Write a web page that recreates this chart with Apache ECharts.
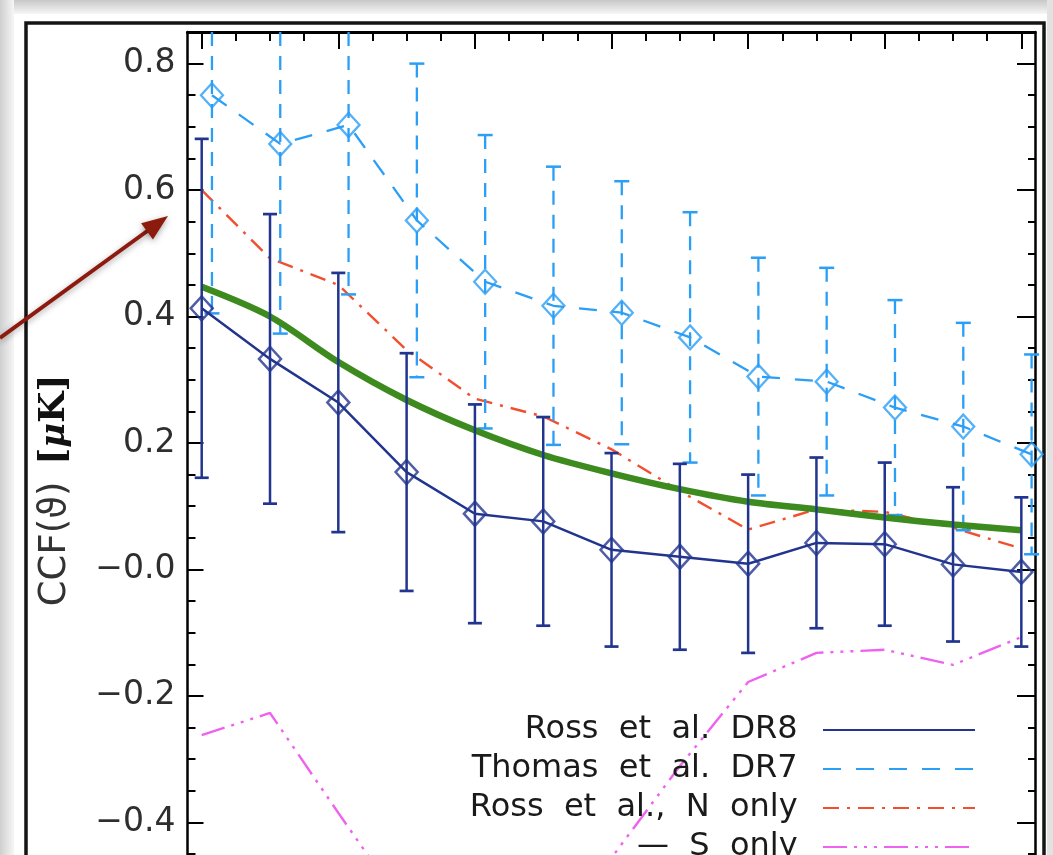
<!DOCTYPE html>
<html><head><meta charset="utf-8">
<script src="https://cdn.jsdelivr.net/npm/echarts@6/dist/echarts.min.js"></script>
<style>html,body{margin:0;padding:0;background:#fff}#c{width:1053px;height:855px}</style>
</head><body><div id="c"></div>
<script>
// ---- data ----
const binX   = [0, 1, 2, 3, 4, 5, 6, 7, 8, 9, 10, 11, 12];
const dr7X   = [0.15, 1.15, 2.15, 3.15, 4.15, 5.15, 6.15, 7.15, 8.15, 9.15, 10.15, 11.15, 12.15];
const dr8Ccf = [0.413, 0.333, 0.264, 0.154, 0.088, 0.076, 0.031, 0.020, 0.009, 0.042, 0.040, 0.008, -0.004];
const dr8Err = [0.268, 0.229, 0.205, 0.188, 0.173, 0.165, 0.153, 0.147, 0.141, 0.135, 0.129, 0.122, 0.118];
const dr7Ccf = [0.750, 0.673, 0.703, 0.552, 0.455, 0.417, 0.406, 0.367, 0.305, 0.297, 0.256, 0.226, 0.182];
const dr7Err = [0.345, 0.300, 0.268, 0.248, 0.232, 0.220, 0.208, 0.198, 0.188, 0.180, 0.170, 0.164, 0.158];
const nOnly  = [0.600, 0.492, 0.450, 0.347, 0.270, 0.242, 0.190, 0.124, 0.063, 0.095, 0.091, 0.066, 0.033];
const sOnly  = [-0.262, -0.227, -0.385, -0.54, -0.62, -0.58, -0.456, -0.311, -0.178, -0.132, -0.127, -0.151, -0.107];
const model  = [0.447, 0.400, 0.328, 0.268, 0.220, 0.181, 0.152, 0.127, 0.107, 0.095, 0.082, 0.071, 0.062];
const seriesNames = ['Ross et al. DR8', 'Thomas et al. DR7', 'Ross et al., N only', '\u2014 S only'];
const xMajorTicks = [0, 2, 4, 6, 8, 10, 12];
const xMinorTicks = [0.5, 1, 1.5, 2.5, 3, 3.5, 4.5, 5, 5.5, 6.5, 7, 7.5, 8.5, 9, 9.5, 10.5, 11, 11.5];

// ---- styles ----
const C_DR8 = '#22358e', C_DR7 = '#2b9ef5', C_N = '#f0502f', C_S = '#ef62ef', C_M = '#3d8b1f';
const X_MIN = -0.208, X_MAX = 12.2, Y_MIN = -0.6, Y_MAX = 0.85;

const zip = (xs, ys) => xs.map((x, i) => [x, ys[i]]);
const zip3 = (xs, ys, es) => xs.map((x, i) => [x, ys[i], es[i]]);

function errRender(color, dash, capW, lw) {
  return function (params, api) {
    const x = api.value(0), y = api.value(1), e = api.value(2);
    const top = api.coord([x, y + e]);
    const bot = api.coord([x, y - e]);
    const cs = params.coordSys;
    const yLo = cs.y, yHi = cs.y + cs.height;
    const t = Math.max(top[1], yLo), b = Math.min(bot[1], yHi);
    const st = { stroke: color, lineWidth: lw, lineDash: dash };
    const cap = { stroke: color, lineWidth: lw + 0.2 };
    const ch = [{ type: 'line', shape: { x1: top[0], y1: t, x2: top[0], y2: b }, style: st }];
    if (top[1] >= yLo) ch.push({ type: 'line', shape: { x1: top[0] - capW / 2, y1: top[1], x2: top[0] + capW / 2, y2: top[1] }, style: cap });
    if (bot[1] <= yHi) ch.push({ type: 'line', shape: { x1: bot[0] - capW / 2, y1: bot[1], x2: bot[0] + capW / 2, y2: bot[1] }, style: cap });
    return { type: 'group', children: ch };
  };
}

function fmtY(v) {
  if (v > 0.81 || v < -0.59) return '';
  const r = Math.round(v * 10) / 10;
  if (Math.abs(r) < 1e-9) return '\u22120.0';
  return r < 0 ? '\u2212' + Math.abs(r).toFixed(1) : r.toFixed(1);
}

const chart = echarts.init(document.getElementById('c'), null, { renderer: 'canvas' });
const tickStyle = { color: '#000', width: 2 };
const yBase = { type: 'value', min: Y_MIN, max: Y_MAX, splitLine: { show: false } };

chart.setOption({
  animation: false,
  backgroundColor: '#ffffff',
  grid: { left: 187.5, top: 32, width: 847.5, height: 916.8, containLabel: false, outerBoundsMode: 'none' },
  xAxis: [
    { type: 'value', position: 'top', min: X_MIN, max: X_MAX,
      axisLine: { show: true, onZero: false, lineStyle: { color: '#000', width: 3 } },
      axisTick: { show: true, inside: true, length: 17, lineStyle: tickStyle, customValues: xMajorTicks },
      axisLabel: { show: false }, splitLine: { show: false } },
    { type: 'value', position: 'top', min: X_MIN, max: X_MAX,
      axisLine: { show: false, onZero: false },
      axisTick: { show: true, inside: true, length: 9, lineStyle: tickStyle, customValues: xMinorTicks },
      axisLabel: { show: false }, splitLine: { show: false } }
  ],
  yAxis: [
    Object.assign({}, yBase, { position: 'left', interval: 0.2,
      axisLine: { show: true, onZero: false, lineStyle: { color: '#000', width: 2.5 } },
      axisTick: { show: true, inside: true, length: 16, lineStyle: tickStyle },
      axisLabel: { show: true, margin: 12, formatter: fmtY, color: '#2e2e2e', fontSize: 33, fontFamily: 'DejaVu Sans' },
      name: '{a|CCF(\u03d1)}     {b|[}{m|\u03bc}{b|K]}', nameLocation: 'middle', nameRotate: 90, nameGap: 114,
      nameTextStyle: { rich: {
        a: { fontFamily: 'DejaVu Sans', fontSize: 37, color: '#333' },
        b: { fontFamily: 'DejaVu Serif', fontWeight: 'bold', fontSize: 36, color: '#111' },
        m: { fontFamily: 'DejaVu Serif', fontStyle: 'italic', fontWeight: 'bold', fontSize: 34, color: '#111' } } } }),
    Object.assign({}, yBase, { position: 'left', interval: 0.05,
      axisLine: { show: false, onZero: false },
      axisTick: { show: true, inside: true, length: 8, lineStyle: tickStyle },
      axisLabel: { show: false } }),
    Object.assign({}, yBase, { position: 'right', interval: 0.2,
      axisLine: { show: true, onZero: false, lineStyle: { color: '#000', width: 2.5 } },
      axisTick: { show: true, inside: true, length: 18, lineStyle: tickStyle },
      axisLabel: { show: false } }),
    Object.assign({}, yBase, { position: 'right', interval: 0.05,
      axisLine: { show: false, onZero: false },
      axisTick: { show: true, inside: true, length: 7, lineStyle: tickStyle },
      axisLabel: { show: false } })
  ],
  legend: {
    data: seriesNames, orient: 'vertical', align: 'right', right: 72, top: 709, height: 240,
    itemWidth: 152, itemHeight: 2, itemGap: 7, selectedMode: false,
    itemStyle: { opacity: 0 },
    formatter: n => n.replace(/ /g, '  ') + '  ',
    textStyle: { fontFamily: 'DejaVu Sans', fontSize: 32, color: '#1a1a1a', lineHeight: 32 }
  },
  graphic: [
    { type: 'rect', silent: true, z: -10, shape: { x: 0, y: 0, width: 1053, height: 14 },
      style: { fill: new echarts.graphic.LinearGradient(0, 0, 0, 1, [{ offset: 0, color: '#c8c8c8' }, { offset: 1, color: '#f6f6f6' }]) } },
    { type: 'rect', silent: true, z: -10, shape: { x: 0, y: 0, width: 14, height: 855 },
      style: { fill: new echarts.graphic.LinearGradient(0, 0, 1, 0, [{ offset: 0, color: '#cfcfcf' }, { offset: 1, color: '#f6f6f6' }]) } },
    { type: 'rect', silent: true, z: -10, shape: { x: 1047, y: 0, width: 6, height: 855 }, style: { fill: '#e2e2e2' } },
    { type: 'rect', silent: true, z: -5, shape: { x: 26, y: 23, width: 1018, height: 900 },
      style: { fill: 'none', stroke: '#151515', lineWidth: 3.5 } },
    { type: 'line', silent: true, z: 100, shape: { x1: 0, y1: 338, x2: 150, y2: 229 },
      style: { stroke: '#8c1b0e', lineWidth: 4, shadowBlur: 6, shadowColor: 'rgba(0,0,0,0.35)', shadowOffsetY: 2 } },
    { type: 'polygon', silent: true, z: 100, shape: { points: [[168, 216], [152.9, 239.4], [141.1, 223.2]] },
      style: { fill: '#8c1b0e', shadowBlur: 6, shadowColor: 'rgba(0,0,0,0.35)', shadowOffsetY: 2 } }
  ],
  series: [
    { name: seriesNames[3], type: 'line', data: zip(binX, sOnly), symbol: 'none',
      lineStyle: { color: C_S, width: 2.4, type: [24, 7, 3, 7, 3, 7, 3, 7] }, itemStyle: { color: C_S }, z: 2 },
    { name: seriesNames[2], type: 'line', data: zip(binX, nOnly), symbol: 'none',
      lineStyle: { color: C_N, width: 2.4, type: [16, 8, 3, 8] }, itemStyle: { color: C_N }, z: 2 },
    { name: 'dr7err', type: 'custom', data: zip3(dr7X, dr7Ccf, dr7Err), renderItem: errRender(C_DR7, [14, 10], 15, 2.3),
      encode: { x: 0, y: 1 }, z: 3 },
    { name: seriesNames[1], type: 'line', data: zip(dr7X, dr7Ccf), symbol: 'none',
      lineStyle: { color: C_DR7, width: 2.3, type: [18, 15] }, itemStyle: { color: C_DR7 }, z: 3 },
    { name: 'dr7pts', type: 'scatter', data: zip(dr7X, dr7Ccf), symbol: 'diamond', symbolSize: [22, 24],
      itemStyle: { color: 'rgba(0,0,0,0)', borderColor: C_DR7, borderWidth: 2.3 }, z: 3 },
    { name: 'model', type: 'line', data: zip(binX, model), symbol: 'none', smooth: 0.3,
      lineStyle: { color: C_M, width: 6.5 }, itemStyle: { color: C_M }, z: 4 },
    { name: 'dr8err', type: 'custom', data: zip3(binX, dr8Ccf, dr8Err), renderItem: errRender(C_DR8, null, 14, 2.5),
      encode: { x: 0, y: 1 }, z: 5 },
    { name: seriesNames[0], type: 'line', data: zip(binX, dr8Ccf), symbol: 'none',
      lineStyle: { color: C_DR8, width: 2.5 }, itemStyle: { color: C_DR8 }, z: 5 },
    { name: 'dr8pts', type: 'scatter', data: zip(binX, dr8Ccf), symbol: 'diamond', symbolSize: [22, 24],
      itemStyle: { color: 'rgba(0,0,0,0)', borderColor: C_DR8, borderWidth: 2.5 }, z: 5 }
  ]
});
</script>
</body></html>
